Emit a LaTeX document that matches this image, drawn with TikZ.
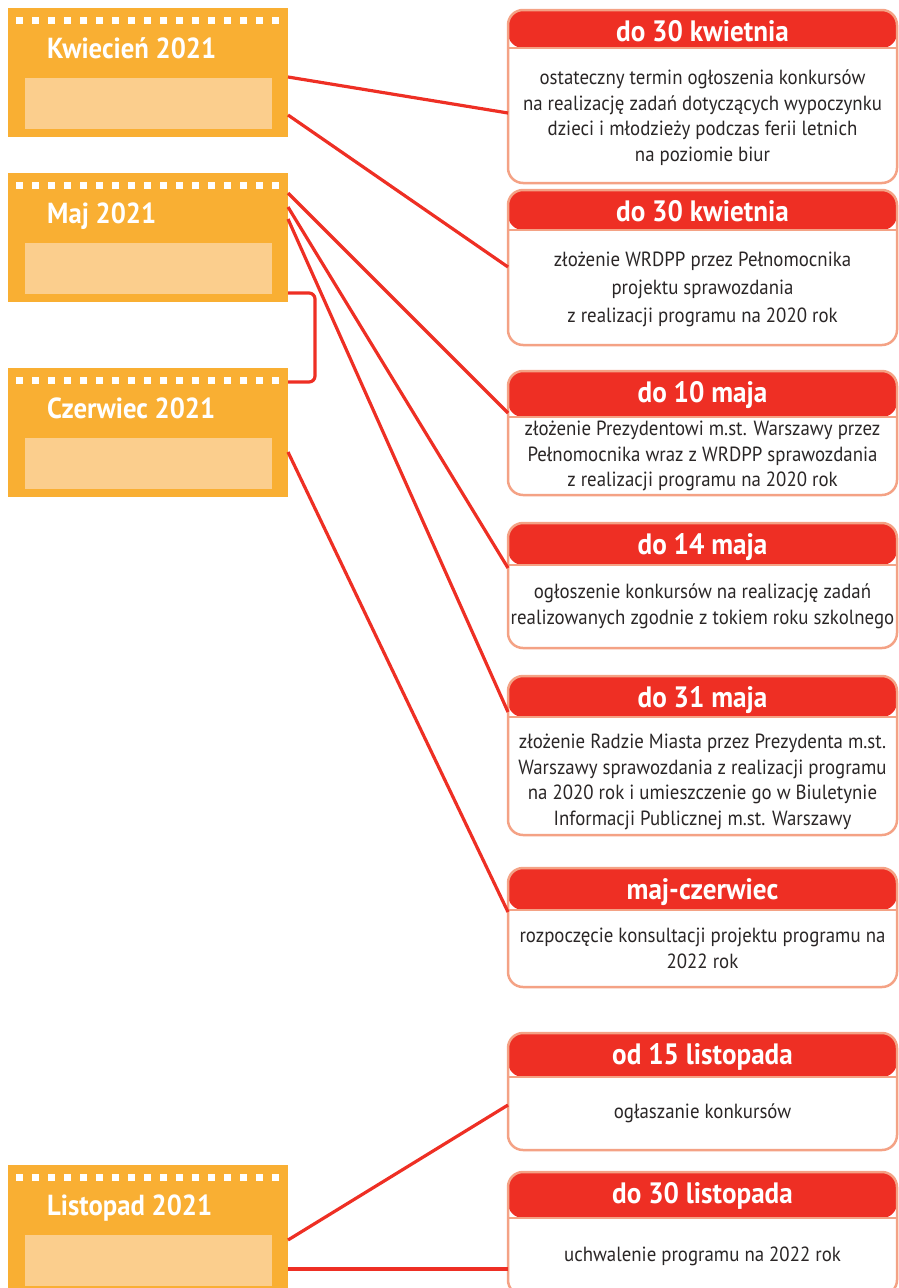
\documentclass[tikz,border=0pt]{standalone}
\usepackage{fontspec}
\setmainfont[FakeStretch=0.92]{PT Sans}
\usetikzlibrary{calc}

\definecolor{kalorange}{HTML}{F9AF33}
\definecolor{kallight}{HTML}{FBCE8D}
\definecolor{kalred}{HTML}{EE2F24}
\definecolor{kalsalmon}{HTML}{F4A285}
\definecolor{kaltext}{HTML}{2A2626}

% month box: name, top, title
\newcommand\monthbox[3]{%
  \node[monthbox] (#1) at (148,#2+64.5) {};
  \foreach \i in {0,...,16} \fill[white] (16+16*\i,#2+9) rectangle ++(7,7);
  \fill[kallight] (25,#2+70) rectangle (272,#2+121);
  \node[monthtitle] (#1-t) at (47,#2+50) {#3};
}

% event box: [text opts], name, top, header bottom, bottom, title, text
\newcommand\evbox[7][]{%
  \pgfmathsetmacro\evh{#5-#3}%
  \pgfmathsetmacro\evhd{#4-#3}%
  \node[evbox, minimum height=\evh] (#2) at (702.5,{(#3+#5)/2}) {};
  \node[evtitle] (#2-t) at (702.5,#3+31) {#6};
  \node[evtext,#1] (#2-b) at (702.5,{(#4+#5)/2}) {#7};
}

\begin{document}
\begin{tikzpicture}[x=1pt,y=-1pt,
    monthbox/.style={fill=kalorange, minimum width=280, minimum height=129,
      inner sep=0, outer sep=0},
    monthtitle/.style={anchor=base west, text=white, inner sep=0,
      font=\fontsize{29}{32}\selectfont\bfseries},
    evbox/.style={draw=kalsalmon, line width=2.5pt, fill=white, rounded corners=15,
      minimum width=389, inner sep=0, outer sep=0,
      path picture={
        \fill[kalred] (path picture bounding box.north west) rectangle
          ([yshift=-\evhd pt]path picture bounding box.north east);
        \draw[kalsalmon, line width=2pt] ([yshift=-\evhd pt]path picture bounding box.north west) --
          ([yshift=-\evhd pt]path picture bounding box.north east);
      }},
    evtitle/.style={anchor=base, text=white, inner sep=0,
      font=\fontsize{29.5}{32}\selectfont\bfseries},
    evtext/.style={align=center, text=kaltext, inner sep=0,
      font=\fontsize{20.5}{25.5}\selectfont},
    link/.style={draw=kalred, line width=3.2pt}]

  \useasboundingbox (0,0) rectangle (898,1288);

  % miesiace
  \monthbox{kwiecien}{8}{Kwiecień 2021}
  \monthbox{maj}{173}{Maj 2021}
  \monthbox{czerwiec}{368}{Czerwiec 2021}
  \monthbox{listopad}{1165}{Listopad 2021}

  % terminy
  \evbox[yshift=-2]{e1}{10}{48}{183}{do 30 kwietnia}{ostateczny termin ogłoszenia konkursów\\
    na realizację zadań dotyczących wypoczynku\\
    dzieci i młodzieży podczas ferii letnich\\ na poziomie biur}
  \evbox[font=\fontsize{20.5}{28}\selectfont, yshift=-2]{e2}{190}{230}{345}{do 30 kwietnia}{złożenie WRDPP przez Pełnomocnika\\
    projektu sprawozdania\\ z realizacji programu na 2020 rok}
  \evbox{e3}{371}{417}{495}{do 10 maja}{złożenie Prezydentowi m.st. Warszawy przez\\
    Pełnomocnika wraz z WRDPP sprawozdania\\ z realizacji programu na 2020 rok}
  \evbox{e4}{523}{565}{648}{do 14 maja}{ogłoszenie konkursów na realizację zadań\\
    realizowanych zgodnie z tokiem roku szkolnego}
  \evbox[yshift=-6]{e5}{676}{717}{835}{do 31 maja}{złożenie Radzie Miasta przez Prezydenta m.st.\\
    Warszawy sprawozdania z realizacji programu\\
    na 2020 rok i umieszczenie go w Biuletynie\\
    Informacji Publicznej m.st. Warszawy}
  \evbox{e6}{868}{910}{987}{maj-czerwiec}{rozpoczęcie konsultacji projektu programu na\\ 2022 rok}
  \evbox{e7}{1033}{1077}{1150}{od 15 listopada}{ogłaszanie konkursów}
  \evbox{e8}{1172}{1218}{1295}{do 30 listopada}{uchwalenie programu na 2022 rok}

  % polaczenia
  \draw[link] ($(kwiecien.north east)+(0,69)$) -- ($(e1.north west)+(0,103)$);
  \draw[link] ($(kwiecien.north east)+(0,107)$) -- ($(e2.north west)+(0,77)$);
  \draw[link] ($(maj.north east)+(0,20)$) -- ($(e3.north west)+(0,42)$);
  \draw[link] ($(maj.north east)+(0,34)$) -- ($(e4.north west)+(0,45)$);
  \draw[link] ($(maj.north east)+(0,46)$) -- ($(e5.north west)+(0,36)$);
  \draw[link] ($(czerwiec.north east)+(0,84)$) -- ($(e6.north west)+(0,44)$);
  \draw[link] ($(listopad.north east)+(0,75)$) -- ($(e7.north west)+(0,72)$);
  \draw[link] ($(listopad.north east)+(0,104)$) -- ($(e8.north west)+(0,97)$);
  \draw[link, rounded corners=6] ($(maj.north east)+(0,120)$) -| ($(czerwiec.north east)+(27,14)$)
    -- ($(czerwiec.north east)+(0,14)$);

\end{tikzpicture}
\end{document}
